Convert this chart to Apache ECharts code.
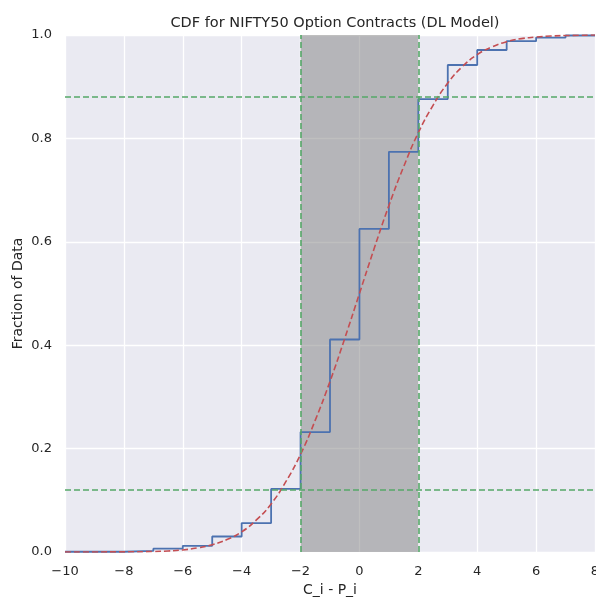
<!DOCTYPE html>
<html>
<head>
<meta charset="utf-8">
<script src="https://cdn.jsdelivr.net/npm/echarts@6/dist/echarts.min.js"></script>
<style>
  html, body { margin: 0; padding: 0; background: #fff; }
  #chart { width: 596px; height: 597px; }
</style>
</head>
<body>
<div id="chart"></div>
<script>
// empirical CDF: [x, fraction after x]
const stepX = [-10, -8, -7, -6, -5, -4, -3, -2, -1, 0, 1, 2, 3, 4, 5, 6, 7, 8];
const stepY = [0.0005, 0.002, 0.0065, 0.012, 0.03, 0.056, 0.122, 0.232, 0.411, 0.625, 0.774, 0.876, 0.942, 0.971, 0.988, 0.995, 0.999, 0.999];

// fitted normal CDF
const fitX = [-10, -9, -8, -7, -6.5, -6, -5.5, -5, -4.5, -4, -3.5, -3, -2.5, -2, -1.5, -1, -0.5, 0, 0.5, 1, 1.5, 2, 2.5, 3, 3.5, 4, 4.5, 5, 5.5, 6, 6.5, 7, 8];
const fitY = [0, 0.0001, 0.0003, 0.001, 0.002, 0.004, 0.008, 0.014, 0.024, 0.039, 0.062, 0.093, 0.136, 0.189, 0.255, 0.33, 0.413, 0.5, 0.587, 0.67, 0.745, 0.811, 0.864, 0.907, 0.939, 0.962, 0.977, 0.987, 0.993, 0.996, 0.998, 0.999, 1.0];

const bandX = [-2, 2];
const levelY = [0.123, 0.876];

const xTicks = [-10, -8, -6, -4, -2, 0, 2, 4, 6, 8];

const txt = '#262626';
const font = 'DejaVu Sans';

const chart = echarts.init(document.getElementById('chart'));

const option = {
  animation: false,
  textStyle: { fontFamily: font },
  title: {
    text: 'CDF for NIFTY50 Option Contracts (DL Model)',
    left: 330,
    top: 11,
    textAlign: 'center',
    textStyle: { fontFamily: font, fontSize: 14.5, fontWeight: 'normal', color: txt }
  },
  grid: {
    left: 65, right: 1, top: 35, bottom: 45,
    outerBoundsMode: 'none',
    containLabel: false,
    show: true, backgroundColor: '#EAEAF2', borderWidth: 0
  },
  xAxis: {
    type: 'value',
    min: -10, max: 8, interval: 2,
    name: 'C_i - P_i',
    nameLocation: 'middle',
    nameGap: 31,
    nameMoveOverlap: false,
    nameTextStyle: { fontFamily: font, fontSize: 14, color: txt },
    axisLine: { show: false },
    axisTick: { show: false },
    axisLabel: {
      margin: 13, fontSize: 13, color: txt, fontFamily: font,
      formatter: v => xTicks.includes(v) ? String(v).replace('-', '\u2212') : ''
    },
    splitLine: { lineStyle: { color: '#ffffff', width: 1.3 } }
  },
  yAxis: {
    type: 'value',
    min: 0, max: 1, interval: 0.2,
    name: 'Fraction of Data',
    nameLocation: 'middle',
    nameGap: 40,
    nameMoveOverlap: false,
    nameTextStyle: { fontFamily: font, fontSize: 14, color: txt },
    axisLine: { show: false },
    axisTick: { show: false },
    axisLabel: {
      margin: 13, fontSize: 13, color: txt, fontFamily: font,
      formatter: v => v.toFixed(1)
    },
    splitLine: { lineStyle: { color: '#ffffff', width: 1.3 } }
  },
  series: [
    {
      type: 'line',
      name: 'band',
      data: [],
      z: 1,
      silent: true,
      markArea: {
        silent: true,
        itemStyle: { color: 'rgba(128,128,128,0.5)' },
        data: [[{ xAxis: bandX[0] }, { xAxis: bandX[1] }]]
      }
    },
    {
      type: 'line',
      name: 'Empirical',
      step: 'end',
      showSymbol: false,
      z: 3,
      data: stepX.map((x, i) => [x, stepY[i]]),
      lineStyle: { color: '#4C72B0', width: 1.8 }
    },
    {
      type: 'line',
      name: 'Normal',
      smooth: true,
      showSymbol: false,
      z: 4,
      data: fitX.map((x, i) => [x, fitY[i]]),
      lineStyle: { color: '#C44E52', width: 1.6, type: [6, 3] }
    },
    {
      type: 'line',
      name: 'guides',
      data: [],
      z: 5,
      markLine: {
        silent: true,
        symbol: 'none',
        label: { show: false },
        lineStyle: { color: '#55A868', width: 1.6, type: [6, 3] },
        data: [
          { xAxis: bandX[0] }, { xAxis: bandX[1] },
          { yAxis: levelY[0] }, { yAxis: levelY[1] }
        ]
      }
    }
  ]
};

chart.setOption(option);
</script>
</body>
</html>
